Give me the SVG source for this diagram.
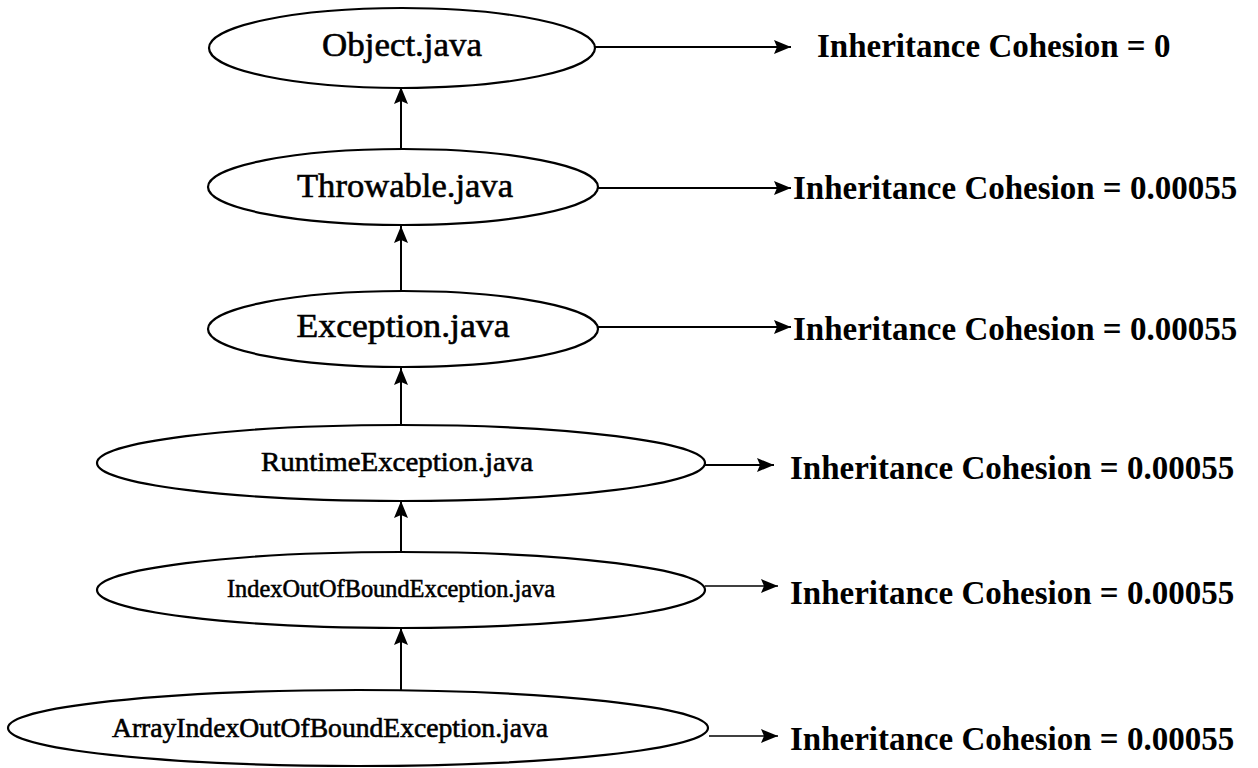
<svg xmlns="http://www.w3.org/2000/svg" width="1258" height="768" viewBox="0 0 1258 768">
<style>
.node ellipse{fill:#fff;stroke:#000;stroke-width:2.2}
.lbl{font-family:"Liberation Serif","Times New Roman",serif;fill:#000;stroke:#000;stroke-width:0.6;text-anchor:middle}
.val{font-family:"Liberation Serif","Times New Roman",serif;font-weight:bold;font-size:33px;fill:#000}
.edge{stroke:#000;stroke-width:2;fill:none;marker-end:url(#ah)}
.edge.thin{stroke-width:1.5}
</style>
<defs>
<marker id="ah" markerUnits="userSpaceOnUse" markerWidth="18" markerHeight="14" refX="17" refY="7" orient="auto">
<path d="M0,0 L17,7 L0,14 L3,7 Z" fill="#000"/>
</marker>
</defs>
<rect width="1258" height="768" fill="#fff"/>
<g id="connectors">
<line class="edge" x1="401" y1="148" x2="401" y2="87"/>
<line class="edge" x1="401" y1="291" x2="401" y2="226"/>
<line class="edge" x1="401" y1="425" x2="401" y2="368"/>
<line class="edge" x1="401" y1="552" x2="401" y2="501"/>
<line class="edge" x1="401" y1="690" x2="401" y2="628"/>
<line class="edge" x1="595" y1="47" x2="791" y2="47"/>
<line class="edge" x1="598" y1="188" x2="791" y2="188"/>
<line class="edge" x1="598" y1="327" x2="791" y2="327"/>
<line class="edge" x1="705" y1="465" x2="774" y2="465"/>
<line class="edge thin" x1="705" y1="586" x2="778" y2="586"/>
<line class="edge thin" x1="709" y1="736" x2="778" y2="736"/>
</g>
<g id="n1" class="node">
<ellipse cx="402" cy="48" rx="193" ry="40"/>
<text class="lbl" x="402" y="56" font-size="34" textLength="160" lengthAdjust="spacingAndGlyphs">Object.java</text>
<text class="val" x="817" y="57" text-anchor="start">Inheritance Cohesion = 0</text>
</g>
<g id="n2" class="node">
<ellipse cx="403" cy="187" rx="195" ry="38"/>
<text class="lbl" x="405" y="197" font-size="34" textLength="216" lengthAdjust="spacingAndGlyphs">Throwable.java</text>
<text class="val" x="793" y="199">Inheritance Cohesion = 0.00055</text>
</g>
<g id="n3" class="node">
<ellipse cx="403" cy="329" rx="195" ry="38"/>
<text class="lbl" x="403" y="337" font-size="34" textLength="213" lengthAdjust="spacingAndGlyphs">Exception.java</text>
<text class="val" x="793" y="340">Inheritance Cohesion = 0.00055</text>
</g>
<g id="n4" class="node">
<ellipse cx="401" cy="463" rx="304" ry="38"/>
<text class="lbl" x="397" y="471" font-size="28" textLength="272" lengthAdjust="spacingAndGlyphs">RuntimeException.java</text>
<text class="val" x="790" y="479">Inheritance Cohesion = 0.00055</text>
</g>
<g id="n5" class="node">
<ellipse cx="401" cy="590" rx="304" ry="38"/>
<text class="lbl" x="391" y="597" font-size="26" textLength="328" lengthAdjust="spacingAndGlyphs">IndexOutOfBoundException.java</text>
<text class="val" x="790" y="604">Inheritance Cohesion = 0.00055</text>
</g>
<g id="n6" class="node">
<ellipse cx="358" cy="728" rx="350" ry="38"/>
<text class="lbl" x="330" y="737" font-size="27" textLength="436" lengthAdjust="spacingAndGlyphs">ArrayIndexOutOfBoundException.java</text>
<text class="val" x="790" y="750">Inheritance Cohesion = 0.00055</text>
</g>
</svg>
